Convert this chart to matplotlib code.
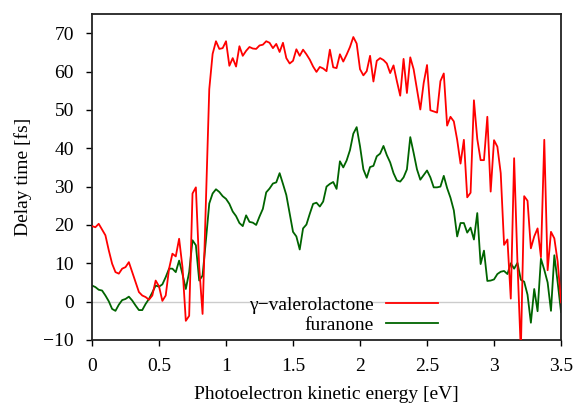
import numpy as np
import matplotlib
matplotlib.use("Agg")
import matplotlib.pyplot as plt

plt.rcParams['font.family'] = ['Liberation Serif', 'DejaVu Serif']
plt.rcParams['font.size'] = 14

# energy grid, 0.025 eV steps
energy = np.round(np.arange(141) * 0.025, 3)

# gamma-valerolactone delay [fs]
gvl = [
    19.7, 19.4, 20.3, 18.8, 17.3, 13.4, 9.9, 7.7, 7.3, 8.6,
    9.0, 10.3, 7.7, 5.1, 2.5, 1.6, 1.2, 0.5, 1.6, 5.5,
    4.0, 0.2, 1.6, 8.6, 12.5, 11.8, 16.4, 9.0, -5.0, -3.7,
    28.2, 29.8, 9.0, -3.2, 26.0, 55.4, 64.6, 67.9, 65.9, 66.1,
    67.9, 61.5, 63.5, 61.3, 66.6, 64.1, 65.4, 66.4, 66.0, 65.9,
    66.8, 67.0, 67.9, 67.5, 66.1, 67.2, 65.1, 67.5, 63.5, 62.1,
    62.8, 65.8, 64.1, 65.7, 64.5, 63.1, 61.3, 59.9, 61.2, 60.8,
    60.1, 65.7, 61.1, 60.9, 64.5, 62.6, 64.4, 66.4, 69.0, 67.3,
    60.6, 59.0, 60.1, 64.1, 57.4, 62.8, 63.5, 63.0, 62.1, 59.6,
    61.6, 57.5, 53.7, 63.3, 54.4, 63.7, 60.6, 55.3, 50.1, 57.0,
    61.7, 49.9, 49.6, 49.3, 57.5, 59.5, 45.9, 48.2, 47.0, 42.2,
    36.0, 42.2, 27.2, 28.4, 52.5, 42.4, 36.9, 36.9, 48.2, 28.7,
    42.1, 40.4, 33.5, 14.8, 16.2, 0.8, 37.4, 10.0, -13.0, 27.5,
    26.3, 13.9, 17.0, 19.1, 11.6, 42.2, 8.2, 18.2, 16.5, 10.4,
    -0.2,
]

# furanone delay [fs]
furanone = [
    4.2, 3.8, 3.1, 2.9, 1.6, 0.1, -1.9, -2.4, -0.8, 0.4,
    0.7, 1.3, 0.3, -1.0, -2.2, -2.2, -0.6, 0.7, 2.4, 4.2,
    3.9, 4.5, 6.4, 8.6, 8.6, 7.7, 10.7, 7.2, 3.3, 7.7,
    16.0, 14.7, 5.5, 6.8, 16.0, 25.6, 28.2, 29.3, 28.6, 27.5,
    26.8, 25.5, 23.5, 22.3, 20.5, 19.7, 22.5, 20.8, 20.6, 20.0,
    22.2, 24.2, 28.5, 29.5, 30.8, 31.1, 33.5, 30.7, 27.8, 23.0,
    18.2, 17.0, 13.6, 19.1, 20.1, 22.9, 25.5, 25.8, 24.8, 26.1,
    30.0, 30.7, 31.2, 29.4, 36.6, 35.0, 36.8, 39.5, 43.8, 45.5,
    40.5, 34.5, 32.3, 35.1, 35.4, 37.9, 38.6, 40.6, 38.2, 36.3,
    33.5, 31.6, 31.3, 32.4, 34.5, 42.9, 38.8, 34.5, 31.8, 33.0,
    34.2, 32.4, 29.8, 29.8, 30.0, 32.8, 29.6, 27.1, 23.8, 17.0,
    20.5, 20.5, 18.0, 19.3, 16.2, 23.1, 9.8, 13.3, 5.4, 5.5,
    5.8, 7.2, 7.8, 8.0, 7.2, 10.0, 8.6, 10.1, 5.7, 5.2,
    1.8, -5.5, 3.3, -2.5, 11.2, 8.3, 5.0, -2.4, 12.1, 5.0,
    -2.7,
]

xticks = [0, 0.5, 1, 1.5, 2, 2.5, 3, 3.5]
xticklabels = ['0', '0.5', '1', '1.5', '2', '2.5', '3', '3.5']
yticks = [-10, 0, 10, 20, 30, 40, 50, 60, 70]

fig = plt.figure(figsize=(5.74, 4.05), dpi=100)
ax = fig.add_axes([0.1603, 0.1605, 0.8171, 0.8049])

ax.axhline(0, color='#cccccc', lw=1.0, zorder=1)
ax.plot(energy, gvl, color='#ff0000', lw=1.3, label='\u03b3\u2212valerolactone', zorder=3)
ax.plot(energy, furanone, color='#006400', lw=1.3, label='furanone', zorder=2)

ax.set_xlim(0, 3.5)
ax.set_ylim(-10, 75)
ax.set_xticks(xticks)
ax.set_xticklabels(xticklabels)
ax.set_yticks(yticks)
ax.tick_params(direction='out', length=4, width=1, top=False, right=False, labelsize=14)
ax.tick_params(axis='y', pad=9)
ax.tick_params(axis='x', pad=9)
for s in ax.spines.values():
    s.set_linewidth(1.3)
    s.set_color('#222222')

ax.set_xlabel('Photoelectron kinetic energy [eV]', fontsize=14, labelpad=8)
ax.set_ylabel('Delay time [fs]', fontsize=14, labelpad=8)

ax.legend(loc='lower right', bbox_to_anchor=(0.742, 0.012), frameon=False,
          markerfirst=False, handlelength=2.7, handletextpad=0.6,
          labelspacing=0.12, borderpad=0.1, borderaxespad=0, fontsize=14)

fig.savefig('out.png', dpi=100)
